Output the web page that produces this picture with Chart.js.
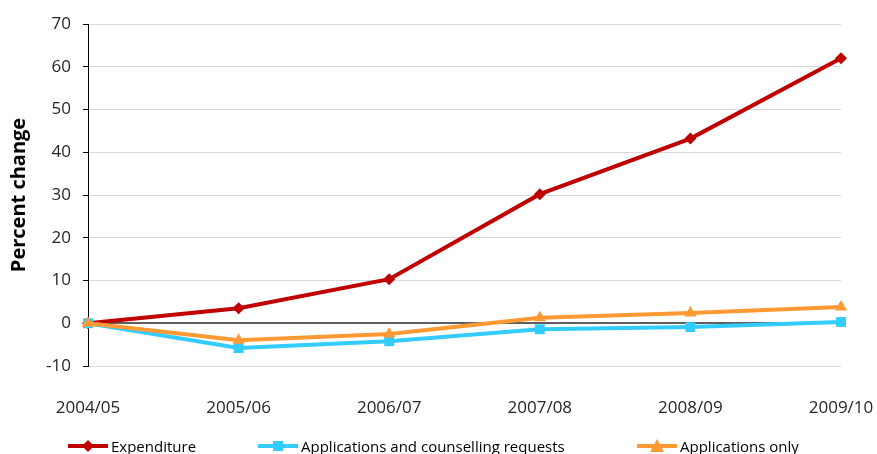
<!DOCTYPE html>
<html>
<head>
<meta charset="utf-8">
<script src="https://cdn.jsdelivr.net/npm/chart.js@4/dist/chart.umd.min.js"></script>
<style>
    html, body { margin: 0; padding: 0; background: #fff; overflow: hidden; }
    #wrap { position: relative; width: 877px; height: 454px; }
    .leg { position: absolute; top: 436px; display: flex; align-items: center; white-space: nowrap;
           font: 15px 'Open Sans', sans-serif; color: #000; line-height: 20px; }
    .leg canvas { margin-right: 3px; }
</style>
</head>
<body>
<div id="wrap"><canvas id="chart"></canvas></div>
<script>
// Data
const years = ['2004/05', '2005/06', '2006/07', '2007/08', '2008/09', '2009/10'];
const expenditure = [0, 3.5, 10.3, 30.2, 43.2, 62];
const appsCounselling = [0, -5.8, -4.2, -1.4, -0.9, 0.3];
const appsOnly = [0, -4, -2.5, 1.3, 2.4, 3.8];
const yMin = -10, yMax = 70, yStep = 10;

const RED = '#c00000', BLUE = '#33ccff', ORANGE = '#ff9933';
const FONT = "'Open Sans', sans-serif";

// Line + marker icon for the legend
function legendIcon(color, shape) {
    const c = document.createElement('canvas');
    c.width = 40; c.height = 16;
    const g = c.getContext('2d');
    g.strokeStyle = color;
    g.fillStyle = color;
    g.lineWidth = 4;
    g.beginPath(); g.moveTo(0, 8); g.lineTo(40, 8); g.stroke();
    g.beginPath();
    if (shape === 'rectRot') {
        g.moveTo(20, 2); g.lineTo(26, 8); g.lineTo(20, 14); g.lineTo(14, 8);
    } else if (shape === 'rect') {
        g.rect(15, 3, 10, 10);
    } else {
        g.moveTo(20, 1); g.lineTo(27, 14); g.lineTo(13, 14);
    }
    g.closePath(); g.fill();
    return c;
}

const chart = new Chart(document.getElementById('chart'), {
    type: 'line',
    data: {
        labels: years,
        datasets: [
            { label: 'Expenditure', data: expenditure, borderColor: RED, backgroundColor: RED,
              pointStyle: 'rectRot', pointRadius: 6, order: 2 },
            { label: 'Applications and counselling requests', data: appsCounselling, borderColor: BLUE, backgroundColor: BLUE,
              pointStyle: 'rect', pointRadius: 7, order: 1 },
            { label: 'Applications only', data: appsOnly, borderColor: ORANGE, backgroundColor: ORANGE,
              pointStyle: 'triangle', pointRadius: 7, order: 0 }
        ].map(d => Object.assign(d, { borderWidth: 4, tension: 0, clip: false, pointBorderWidth: 0 }))
    },
    options: {
        responsive: true,
        maintainAspectRatio: false,
        animation: false,
        events: [],
        layout: { padding: { top: 24, right: 36, left: 0, bottom: 0 } },
        plugins: {
            tooltip: { enabled: false },
            legend: { display: false }
        },
        scales: {
            x: {
                offset: false,
                // invisible tick marks push the labels down without adding side padding
                grid: { drawOnChartArea: false, tickLength: 32, tickColor: 'rgba(0,0,0,0)' },
                border: { display: false },
                ticks: { color: '#262626', font: { family: FONT, size: 17 }, padding: 0, maxRotation: 0 },
                afterFit: s => { s.height = 88; }
            },
            y: {
                min: yMin,
                max: yMax,
                ticks: { stepSize: yStep, color: '#262626', font: { family: FONT, size: 17 }, padding: 12 },
                grid: {
                    color: c => c.tick && c.tick.value === 0 ? '#5f5f5f' : '#d9d9d9',
                    lineWidth: c => c.tick && c.tick.value === 0 ? 2 : 1,
                    tickColor: '#000',
                    tickLength: 5
                },
                border: { color: '#000', width: 1 },
                title: {
                    display: true,
                    text: 'Percent change',
                    color: '#000',
                    font: { family: FONT, size: 20, weight: 'bold' },
                    padding: { top: 7, bottom: 0 }
                },
                afterFit: s => { s.width = 88; }
            }
        }
    }
});

// Legend (line + marker, like the original)
const legendLeft = [68, 258, 637];
chart.data.datasets.forEach((ds, i) => {
    const item = document.createElement('div');
    item.className = 'leg';
    item.style.left = legendLeft[i] + 'px';
    item.appendChild(legendIcon(ds.borderColor, ds.pointStyle));
    item.appendChild(document.createTextNode(ds.label));
    document.getElementById('wrap').appendChild(item);
});
</script>
</body>
</html>
